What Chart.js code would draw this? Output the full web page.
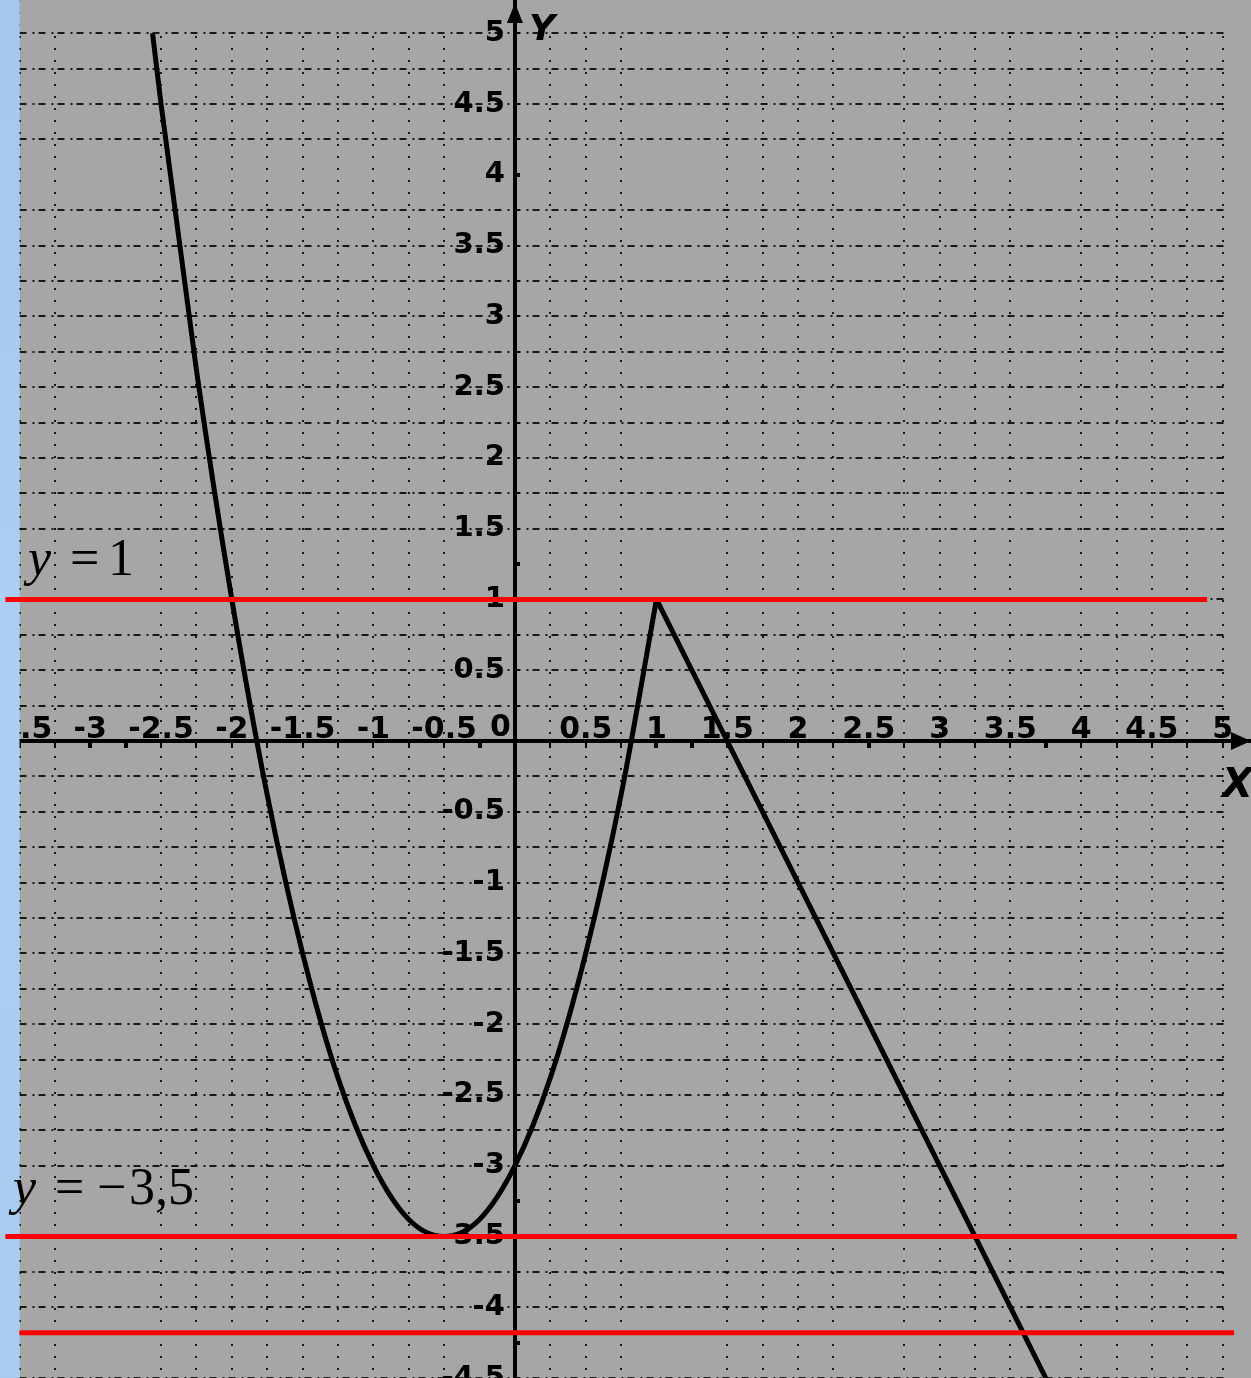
<!DOCTYPE html>
<html><head><meta charset="utf-8">
<script src="https://cdn.jsdelivr.net/npm/chart.js@4/dist/chart.umd.min.js"></script>
<style>
html,body{margin:0;padding:0;background:#a9cdf1;overflow:hidden;}
#wrap{position:relative;width:1251px;height:1378px;}
</style></head><body>
<div id="wrap"><canvas id="c" width="1251" height="1378"></canvas></div>
<script>
// ---- data ----
const curveLeftX  = [-2.56, -2.5, -2.25, -2, -1.75, -1.5, -1.25, -1, -0.75, -0.5, -0.25, 0, 0.25, 0.5, 0.75, 1];
const curveLeftY  = [5.0, 4.5, 2.62, 1.0, -0.38, -1.5, -2.38, -3.0, -3.38, -3.5, -3.38, -3.0, -2.38, -1.5, -0.38, 1.0];
const curveRightX = [1, 1.5, 2, 2.5, 3, 3.5, 3.75];
const curveRightY = [1, 0, -1, -2, -3, -4, -4.5];
const redLevels = [1, -3.5, -4.18];
const redFromX  = [-3.6, -3.6, -3.5];
const redToX    = [4.89, 5.1, 5.08];
const xTickLabels = ['-3.5','-3','-2.5','-2','-1.5','-1','-0.5','0.5','1','1.5','2','2.5','3','3.5','4','4.5','5'];
const yTickLabels = ['5','4.5','4','3.5','3','2.5','2','1.5','1','0.5','-0.5','-1','-1.5','-2','-2.5','-3','-3.5','-4','-4.5'];
// grid lines that are absent in the picture (double tick marks there instead)
const xGridGaps = ['-3','-2.75','-0.25','1','1.25','2.5','3.75'];
const yGridGaps = ['4','1.25','-3.25','-4.25'];

const fmt = v => String(Math.round(v * 100) / 100);
const pts = (xs, ys) => xs.map((x, i) => ({x, y: ys[i]}));
const noPad = s => { s.paddingTop = 0; s.paddingBottom = 0; s.paddingLeft = 0; s.paddingRight = 0; };
const gridCol = gaps => c => (c.tick && gaps.includes(fmt(c.tick.value))) ? 'rgba(0,0,0,0)' : 'rgba(0,0,0,0.85)';
const tickW = gaps => c => (c.tick && gaps.includes(fmt(c.tick.value))) ? 4 : 2;

const redSets = redLevels.map((lv, i) => ({
  data: [{x: redFromX[i], y: lv}, {x: redToX[i], y: lv}],
  borderColor: '#ff0000', borderWidth: 5, pointRadius: 0, showLine: true, clip: false, tension: 0
}));

const GREY = '#a6a6a6';
const deco = {
  id: 'deco',
  beforeDraw(chart) {
    const {ctx, chartArea: a} = chart;
    ctx.save();
    ctx.fillStyle = GREY;
    ctx.fillRect(a.left, a.top, a.right - a.left, a.bottom - a.top);
    ctx.restore();
  },
  beforeDatasetsDraw(chart) {
    const {ctx, chartArea: a, scales: {x, y}} = chart;
    const x0 = x.getPixelForValue(0), y0 = y.getPixelForValue(0);
    const xEnd = x.getPixelForValue(5) + 2, yTop = y.getPixelForValue(5) - 2;
    ctx.save();
    // grid only spans the labelled range: hide the stubs beyond x=5 and above y=5
    ctx.fillStyle = GREY;
    ctx.fillRect(a.left, 0, x0 - 30 - a.left, yTop);
    ctx.fillRect(x0 + 4, 0, a.right - x0 - 4, yTop);
    ctx.fillRect(xEnd, 0, a.right - xEnd, y0 - 30);
    ctx.fillRect(xEnd, y0 + 4, a.right - xEnd, a.bottom - y0 - 4);
    // blue slide strip on the left
    const g = ctx.createLinearGradient(0, 0, 0, chart.height);
    g.addColorStop(0, '#a4c8ee'); g.addColorStop(0.5, '#acd0f3'); g.addColorStop(1, '#a8ccf0');
    ctx.fillStyle = g;
    ctx.fillRect(0, 0, a.left, chart.height);
    ctx.restore();
  },
  afterDatasetsDraw(chart) {
    const {ctx, scales: {x, y}} = chart;
    const x0 = x.getPixelForValue(0), y0 = y.getPixelForValue(0);
    ctx.save();
    ctx.fillStyle = '#000';
    // arrow on x axis
    ctx.beginPath();
    ctx.moveTo(1251, y0); ctx.lineTo(1231, y0 - 9); ctx.lineTo(1231, y0 + 9); ctx.closePath(); ctx.fill();
    // arrow on y axis
    ctx.beginPath();
    ctx.moveTo(x0, 3); ctx.lineTo(x0 - 8, 23); ctx.lineTo(x0 + 8, 23); ctx.closePath(); ctx.fill();
    // axis names
    ctx.font = 'italic bold 36px "DejaVu Sans"';
    ctx.textAlign = 'left'; ctx.textBaseline = 'alphabetic';
    ctx.fillText('Y', x0 + 14, 40);
    ctx.font = 'italic bold 40px "DejaVu Sans"';
    ctx.fillText('X', 1222, 797);
    // origin label
    ctx.font = 'bold 30px "DejaVu Sans"';
    ctx.textAlign = 'right';
    ctx.fillText('0', x0 - 4, y0 - 5);
    // line annotations
    ctx.textAlign = 'left';
    const b1 = y.getPixelForValue(1) - 24;
    ctx.font = 'italic 52px "Liberation Serif"';
    ctx.fillText('y', 28, b1);
    ctx.font = '52px "Liberation Serif"';
    ctx.fillText('=', 70, b1);
    ctx.fillText('1', 108, b1);
    const b2 = y.getPixelForValue(-3.5) - 32;
    ctx.font = 'italic 52px "Liberation Serif"';
    ctx.fillText('y', 13, b2);
    ctx.font = '52px "Liberation Serif"';
    ctx.fillText('=', 55, b2);
    ctx.fillText('\u2212', 97, b2);
    ctx.fillText('3,5', 129, b2);
    ctx.restore();
  }
};

new Chart(document.getElementById('c'), {
  type: 'scatter',
  data: {
    datasets: [
      ...redSets,
      {data: pts(curveLeftX, curveLeftY), borderColor: '#000', borderWidth: 5, pointRadius: 0, showLine: true, cubicInterpolationMode: 'monotone'},
      {data: pts(curveRightX, curveRightY), borderColor: '#000', borderWidth: 5, pointRadius: 0, showLine: true, tension: 0}
    ]
  },
  options: {
    responsive: false, animation: false, devicePixelRatio: 1,
    layout: {autoPadding: false, padding: {left: 19.5, right: 0, top: 0, bottom: 0}},
    plugins: {legend: {display: false}, tooltip: {enabled: false}},
    scales: {
      x: {
        type: 'linear', position: {y: 0}, min: -3.5, max: 5.2, afterFit: noPad,
        ticks: {
          stepSize: 0.25, autoSkip: false, maxRotation: 0, minRotation: 0, includeBounds: false,
          padding: -34, color: '#000', font: {family: 'DejaVu Sans', size: 30, weight: 'bold'},
          callback: v => { const s = fmt(v); return xTickLabels.includes(s) ? s : ''; }
        },
        grid: {color: gridCol(xGridGaps), lineWidth: 2, tickLength: 5, tickColor: '#000', tickWidth: tickW(xGridGaps)},
        border: {display: true, color: '#000', width: 4, dash: [2, 10]}
      },
      y: {
        type: 'linear', position: {x: 0}, min: -4.5, max: 5.235, afterFit: noPad,
        ticks: {
          stepSize: 0.25, autoSkip: false, includeBounds: false,
          color: '#000', font: {family: 'DejaVu Sans', size: 29, weight: 'bold'},
          callback: v => { const s = fmt(v); return yTickLabels.includes(s) ? s + ' ' : ''; }
        },
        grid: {color: gridCol(yGridGaps), lineWidth: 2, tickLength: -7, tickColor: '#000', tickWidth: tickW(yGridGaps)},
        border: {display: true, color: '#000', width: 4, dash: [7, 6, 2, 4]}
      }
    }
  },
  plugins: [deco]
});
</script>
</body></html>
